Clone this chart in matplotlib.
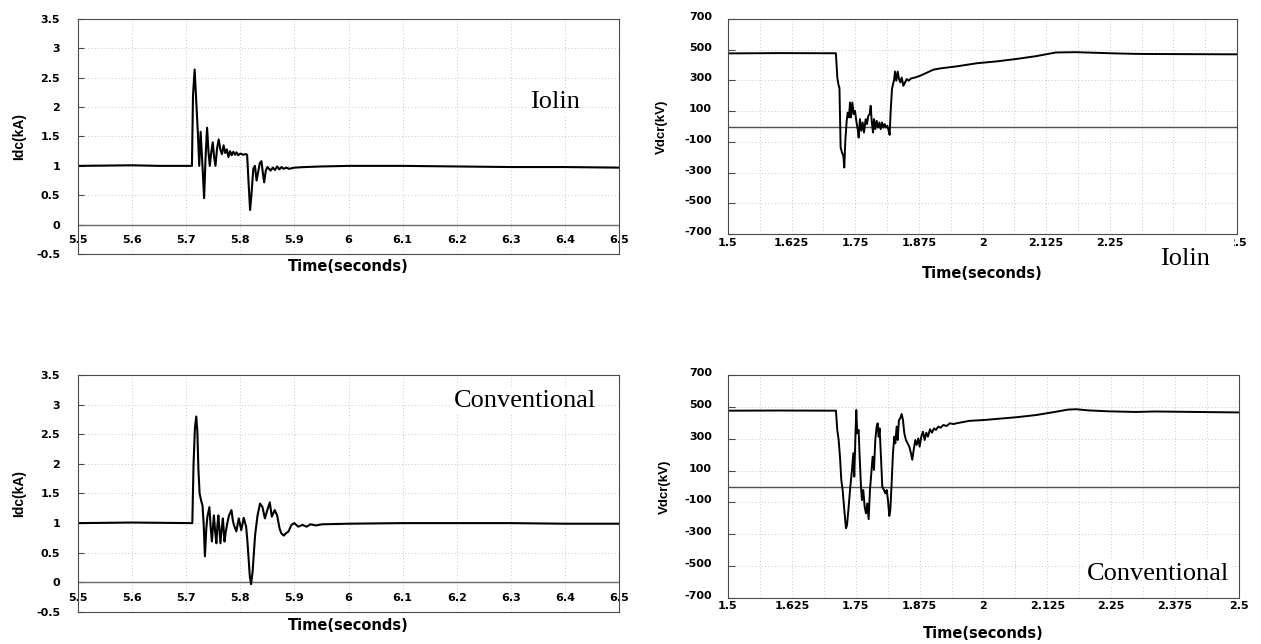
import matplotlib
matplotlib.use("Agg")
import matplotlib.pyplot as plt
from matplotlib.ticker import MultipleLocator
from matplotlib.patches import Rectangle
from matplotlib.transforms import ScaledTranslation

plt.rcParams["font.family"] = ["DejaVu Sans"]
plt.rcParams["font.weight"] = "bold"

# ---------------------------------------------------------------- axes ticks
idc_xticks = [5.5, 5.6, 5.7, 5.8, 5.9, 6.0, 6.1, 6.2, 6.3, 6.4, 6.5]
idc_xlabels = ["5.5", "5.6", "5.7", "5.8", "5.9", "6", "6.1", "6.2", "6.3", "6.4", "6.5"]
idc_yticks = [-0.5, 0.0, 0.5, 1.0, 1.5, 2.0, 2.5, 3.0, 3.5]
idc_ylabels = ["-0.5", "0", "0.5", "1", "1.5", "2", "2.5", "3", "3.5"]

vdc_xticks = [1.5, 1.625, 1.75, 1.875, 2.0, 2.125, 2.25, 2.375, 2.5]
vdc_xlabels = ["1.5", "1.625", "1.75", "1.875", "2", "2.125", "2.25", "2.375", "2.5"]
vdc_yticks = [-700, -500, -300, -100, 100, 300, 500, 700]
vdc_ylabels = ["-700", "-500", "-300", "-100", "100", "300", "500", "700"]

# ------------------------------------------------- DC current, Iolin control
t_idc_iolin = [5.50, 5.60, 5.65, 5.7105, 5.7125, 5.7155, 5.7185, 5.7215, 5.7240,
               5.7265, 5.7300, 5.7330, 5.7360, 5.7385, 5.7410, 5.7435, 5.7465,
               5.7490, 5.7515, 5.7540, 5.7570, 5.7600, 5.7630, 5.7660, 5.7690,
               5.7720, 5.7750, 5.7780, 5.7810, 5.7840, 5.7870, 5.7900, 5.7930,
               5.7960, 5.8000, 5.8050, 5.8100, 5.8125, 5.8150, 5.8180, 5.8200,
               5.8240, 5.8270, 5.8300, 5.8330, 5.8360, 5.8390, 5.8420, 5.8440,
               5.8470, 5.8500, 5.8530, 5.8560, 5.8600, 5.8640, 5.8680, 5.8720,
               5.8760, 5.8800, 5.8850, 5.8900, 5.9000, 5.9200, 5.9500, 6.0000,
               6.1000, 6.2000, 6.3000, 6.4000, 6.5000]
v_idc_iolin = [1.00, 1.01, 1.00, 1.00, 2.20, 2.64, 2.10, 1.55, 1.00,
               1.58, 1.00, 0.45, 1.20, 1.65, 1.25, 1.00, 1.25,
               1.40, 1.15, 1.00, 1.30, 1.45, 1.28, 1.20, 1.35,
               1.22, 1.28, 1.15, 1.25, 1.18, 1.24, 1.19, 1.23,
               1.18, 1.21, 1.19, 1.20, 1.19, 0.75, 0.25, 0.45,
               0.95, 1.00, 0.75, 0.90, 1.05, 1.08, 0.85, 0.72,
               0.92, 0.98, 0.95, 0.92, 0.97, 0.93, 0.99, 0.94,
               0.98, 0.95, 0.97, 0.95, 0.97, 0.98, 0.99, 1.00,
               1.00, 0.99, 0.98, 0.98, 0.97]

# ------------------------------------------ DC current, conventional control
t_idc_conv = [5.50, 5.60, 5.7112, 5.7135, 5.7160, 5.7185, 5.7205, 5.7225, 5.7247,
              5.7275, 5.7300, 5.7323, 5.7345, 5.7370, 5.7390, 5.7428, 5.7450,
              5.7474, 5.7495, 5.7511, 5.7535, 5.7557, 5.7575, 5.7594, 5.7612,
              5.7632, 5.7655, 5.7677, 5.7707, 5.7730, 5.7753, 5.7790, 5.7836,
              5.7860, 5.7881, 5.7926, 5.7971, 5.8017, 5.8062, 5.8107, 5.8130,
              5.8152, 5.8175, 5.8198, 5.8228, 5.8250, 5.8273, 5.8318, 5.8364,
              5.8409, 5.8454, 5.8499, 5.8544, 5.8582, 5.8635, 5.8680, 5.8725,
              5.8756, 5.8801, 5.8846, 5.8891, 5.8944, 5.8997, 5.9072, 5.9148,
              5.9223, 5.9299, 5.9397, 5.9510, 6.0000, 6.1000, 6.2000, 6.3000,
              6.4000, 6.5000]
v_idc_conv = [1.00, 1.01, 1.00, 2.00, 2.60, 2.80, 2.55, 1.90, 1.50,
              1.38, 1.30, 0.97, 0.44, 0.90, 1.10, 1.27, 0.95,
              0.69, 0.95, 1.13, 0.85, 0.66, 0.95, 1.13, 0.90,
              0.66, 0.90, 1.08, 0.69, 0.85, 0.97, 1.13, 1.22,
              1.05, 0.97, 0.86, 1.08, 0.88, 1.09, 0.94, 0.70,
              0.41, 0.10, -0.03, 0.19, 0.50, 0.80, 1.13, 1.33,
              1.27, 1.08, 1.22, 1.35, 1.11, 1.22, 1.13, 0.91,
              0.83, 0.79, 0.83, 0.86, 0.97, 1.00, 0.94, 0.97,
              0.94, 0.98, 0.96, 0.98, 0.99, 1.00, 1.00, 1.00,
              0.99, 0.99]

# ------------------------------------------ rectifier DC voltage, Iolin control
t_vdc_iolin = [1.500, 1.600, 1.700, 1.7120, 1.7148, 1.7168, 1.7190, 1.7213, 1.7240,
               1.7266, 1.7285, 1.7305, 1.7332, 1.7352, 1.7377, 1.7397, 1.7417,
               1.7443, 1.7470, 1.7495, 1.7521, 1.7548, 1.7567, 1.7593, 1.7620,
               1.7646, 1.7672, 1.7705, 1.7731, 1.7757, 1.7784, 1.7803, 1.7823,
               1.7849, 1.7868, 1.7894, 1.7921, 1.7947, 1.7973, 1.8000, 1.8026,
               1.8052, 1.8078, 1.8104, 1.8130, 1.8157, 1.8176, 1.8196, 1.8222,
               1.8242, 1.8261, 1.8281, 1.8307, 1.8334, 1.8360, 1.8386, 1.8413,
               1.8445, 1.8478, 1.8511, 1.8550, 1.8595, 1.8674, 1.8772, 1.8904,
               1.9034, 1.9165, 1.950, 1.989, 2.028, 2.067, 2.105, 2.144, 2.183,
               2.222, 2.261, 2.300, 2.339, 2.417, 2.500]
v_vdc_iolin = [476, 478, 477, 477, 319, 276, 250, -137, -169,
               -191, -267, -93, 37, 91, 59, 156, 59,
               156, 81, 102, 37, -17, -72, 48, -28,
               26, -39, 48, 16, 70, 81, 135, 37,
               -39, 48, -17, 37, -7, 26, -17, 26,
               -7, 16, -7, 5, -28, -55, 102, 243,
               276, 298, 358, 298, 358, 309, 287, 319,
               265, 287, 309, 298, 313, 319, 330, 350,
               370, 378, 392, 412, 424, 440, 458, 482, 484,
               480, 476, 473, 472, 471, 470]

# ------------------------------------ rectifier DC voltage, conventional control
t_vdc_conv = [1.500, 1.600, 1.7113, 1.7139, 1.7166, 1.7192, 1.7218, 1.7244, 1.7277,
              1.7309, 1.7330, 1.7362, 1.7394, 1.7427, 1.7453, 1.7472, 1.7492,
              1.7511, 1.7531, 1.7557, 1.7577, 1.7603, 1.7622, 1.7648, 1.7675,
              1.7701, 1.7727, 1.7753, 1.7779, 1.7805, 1.7831, 1.7857, 1.7883,
              1.7910, 1.7930, 1.7949, 1.7968, 1.7994, 1.8020, 1.8053, 1.8079,
              1.8106, 1.8131, 1.8157, 1.8177, 1.8203, 1.8229, 1.8255, 1.8275,
              1.8301, 1.8321, 1.8346, 1.8372, 1.8399, 1.8425, 1.8451, 1.8483,
              1.8516, 1.8549, 1.8581, 1.8607, 1.8634, 1.8666, 1.8692, 1.8725,
              1.8751, 1.8783, 1.8816, 1.8849, 1.8881, 1.8914, 1.8953, 1.8992,
              1.9031, 1.9070, 1.9116, 1.9162, 1.9214, 1.9280, 1.9344, 1.9410,
              1.9475, 1.972, 2.003, 2.065, 2.104, 2.143, 2.166, 2.182, 2.205,
              2.244, 2.298, 2.337, 2.415, 2.500]
v_vdc_conv = [476, 477, 476, 355, 292, 187, 41, -22, -148,
              -262, -242, -127, -1, 104, 209, 62, 292,
              480, 334, 355, 187, -1, -85, -22, -127,
              -169, -106, -205, -22, 83, 187, 104, 292,
              376, 397, 313, 365, 187, -1, -22, -43,
              -22, -85, -185, -148, 20, 209, 313, 271,
              376, 292, 417, 428, 455, 417, 334, 292,
              271, 250, 209, 168, 229, 292, 261, 302,
              250, 313, 344, 292, 338, 313, 359, 338,
              365, 355, 376, 369, 386, 380, 397, 392,
              397, 412, 418, 435, 449, 470, 483, 485, 478,
              472, 468, 471, 468, 465]

FRAME = "#4a4a4a"
GRID = "#b4b4b4"
GRID_STYLE = (0, (1, 3))
TICK_FS = 8


def style_current(ax):
    ax.set_xlim(5.5, 6.5)
    ax.set_ylim(-0.5, 3.5)
    ax.set_xticks(idc_xticks, idc_xlabels)
    ax.set_yticks(idc_yticks, idc_ylabels)
    ax.grid(True, color=GRID, linestyle=GRID_STYLE, linewidth=0.6)
    ax.axhline(0, color="#6a6a6a", linewidth=1.0, zorder=1.8)
    # category labels sit just under the zero line, inside the frame
    ax.tick_params(axis="x", length=0, pad=-13.7, labelsize=TICK_FS)
    ax.tick_params(axis="y", direction="in", length=4, width=0.8, color=FRAME,
                   pad=13, labelsize=TICK_FS)
    for sp in ax.spines.values():
        sp.set_color(FRAME)
        sp.set_linewidth(0.8)
    ax.set_xlabel("Time(seconds)", fontsize=10.5, fontweight="bold")
    ax.xaxis.set_label_coords(0.5, -0.022)
    ax.set_ylabel("Idc(kA)", fontsize=10, family="Liberation Sans", fontweight="bold")
    ax.yaxis.set_label_coords(-0.096, 0.5)


def style_voltage(ax):
    ax.set_xlim(1.5, 2.5)
    ax.set_ylim(-700, 700)
    ax.set_xticks(vdc_xticks, vdc_xlabels)
    ax.xaxis.set_minor_locator(MultipleLocator(0.0625))
    ax.set_yticks(vdc_yticks, vdc_ylabels)
    ax.grid(True, which="both", color=GRID, linestyle=GRID_STYLE, linewidth=0.6)
    ax.axhline(0, color="#505050", linewidth=1.0, zorder=1.8)
    ax.tick_params(axis="x", which="both", length=0, pad=2.5, labelsize=TICK_FS)
    ax.tick_params(axis="y", direction="in", length=5, width=0.8, color=FRAME,
                   pad=11.5, labelsize=TICK_FS)
    # value labels ride a few pixels above their gridlines
    lift = ScaledTranslation(0, 3 / 100, ax.figure.dpi_scale_trans)
    for lbl in ax.get_yticklabels():
        lbl.set_transform(lbl.get_transform() + lift)
    for name, sp in ax.spines.items():
        sp.set_color(FRAME)
        sp.set_linewidth(0.8)
        if name != "left":
            sp.set_linestyle((0, (1, 1)))
    ax.set_ylabel("Vdcr(kV)", fontsize=9.5, family="Liberation Sans", fontweight="bold")


fig = plt.figure(figsize=(12.61, 6.44), dpi=100)

ax_tl = fig.add_axes([0.0619, 0.6056, 0.4290, 0.3649])
ax_tr = fig.add_axes([0.5773, 0.6366, 0.4037, 0.3339])
ax_bl = fig.add_axes([0.0619, 0.0497, 0.4290, 0.3680])
ax_br = fig.add_axes([0.5773, 0.0714, 0.4052, 0.3463])

serif = dict(family="Liberation Serif", fontsize=19, fontweight="normal")
white_box = dict(facecolor="white", edgecolor="none", pad=1.5)

# Idc, Iolin
style_current(ax_tl)
ax_tl.plot(t_idc_iolin, v_idc_iolin, color="black", linewidth=1.5, zorder=2)
ax_tl.text(6.381, 1.99, "Iolin", ha="center", va="baseline", bbox=white_box,
           zorder=3, **serif)

# Idc, conventional
style_current(ax_bl)
ax_bl.xaxis.set_label_coords(0.5, -0.025)
ax_bl.plot(t_idc_conv, v_idc_conv, color="black", linewidth=1.5, zorder=2)
ax_bl.text(6.326, 2.96, "Conventional", ha="center", va="baseline", bbox=white_box,
           zorder=3, **serif)

# Vdcr, Iolin
style_voltage(ax_tr)
ax_tr.set_xlabel("Time(seconds)", fontsize=10.5, fontweight="bold")
ax_tr.xaxis.set_label_coords(0.5, -0.15)
ax_tr.yaxis.set_label_coords(-0.118, 0.5)
ax_tr.plot(t_vdc_iolin, v_vdc_iolin, color="black", linewidth=1.4, zorder=2)
# the caption sits on an opaque patch over the right end of the time axis
ax_tr.add_patch(Rectangle((0.829, -0.19), 0.165, 0.18, transform=ax_tr.transAxes,
                          facecolor="white", edgecolor="none", clip_on=False,
                          zorder=2.05))
ax_tr.text(0.898, -0.144, "Iolin", transform=ax_tr.transAxes, ha="center",
           va="baseline", clip_on=False, zorder=2.1, **serif)

# Vdcr, conventional
style_voltage(ax_br)
ax_br.set_xlabel("Time(seconds)", fontsize=10.5, fontweight="bold")
ax_br.xaxis.set_label_coords(0.5, -0.126)
ax_br.yaxis.set_label_coords(-0.1115, 0.5)
ax_br.plot(t_vdc_conv, v_vdc_conv, color="black", linewidth=1.4, zorder=2)
ax_br.text(2.341, -587, "Conventional", ha="center", va="baseline", bbox=white_box,
           zorder=3, **serif)

fig.savefig("out.png", dpi=100)
